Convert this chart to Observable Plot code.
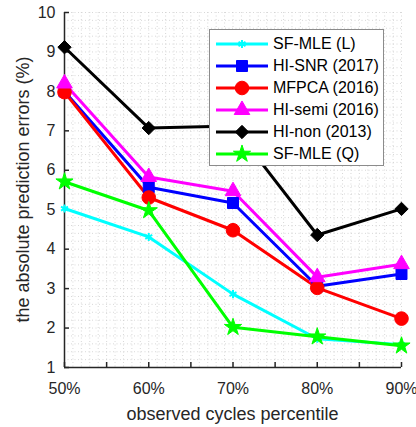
<!DOCTYPE html>
<html>
<head>
<meta charset="utf-8">
<script src="https://cdn.jsdelivr.net/npm/d3@7"></script>
<script src="https://cdn.jsdelivr.net/npm/@observablehq/plot@0.6"></script>
<style>
  html, body { margin: 0; padding: 0; background: #fff; }
  #wrap { position: relative; width: 416px; height: 427px; font-family: "Liberation Sans", Arial, sans-serif; }
  #legend { position: absolute; left: 209px; top: 29px; width: 175px; height: 137px; box-sizing: border-box;
            border: 1px solid #8c8c8c; background: #fff; padding-top: 3px; }
  .row { display: flex; align-items: center; height: 22px; }
  .row svg { margin-left: 5px; }
  .row span { font-size: 16px; color: #000; margin-left: 4px; white-space: nowrap; }
</style>
</head>
<body>
<div id="wrap"></div>
<script>
// observed cycles percentile
const percentiles = [50, 60, 70, 80, 90];

// absolute prediction errors (%) per method
const sfMleL  = [5.03, 4.31, 2.86, 1.73, 1.58];
const hiSnr   = [8.00, 5.57, 5.17, 3.06, 3.37];
const mfpca   = [7.98, 5.31, 4.48, 3.02, 2.24];
const hiSemi  = [8.20, 5.83, 5.47, 3.29, 3.62];
const hiNon   = [9.12, 7.07, 7.12, 4.36, 5.02];
const sfMleQ  = [5.71, 4.98, 2.02, 1.78, 1.55];

const methods = [
  {name: "SF-MLE (L)",     values: sfMleL, color: "#00ffff", symbol: "asterisk", r: 3.8, filled: false},
  {name: "HI-SNR (2017)",  values: hiSnr,  color: "#0000ff", symbol: "square",   r: 6.2, filled: true},
  {name: "MFPCA (2016)",   values: mfpca,  color: "#ff0000", symbol: "circle",   r: 6.8, filled: true},
  {name: "HI-semi (2016)", values: hiSemi, color: "#ff00ff", symbol: "triangle", r: 5.8, filled: true},
  {name: "HI-non (2013)",  values: hiNon,  color: "#000000", symbol: "diamond2", r: 6.0, filled: true},
  {name: "SF-MLE (Q)",     values: sfMleQ, color: "#00ff00", symbol: "star",     r: 5.4, filled: true}
];

const rows = methods.flatMap(m => percentiles.map((p, i) => ({method: m.name, p, v: m.values[i]})));

const xMinor = d3.range(50, 90.001, 1);
const yMinor = d3.range(1, 10.001, 0.2);
const xTicks = d3.range(50, 90.001, 5);
const xLabels = [50, 60, 70, 80, 90];
const yTicks = d3.range(1, 11, 1);

const marks = [
  // fine dotted grid
  Plot.ruleX(xMinor, {stroke: "#c8c8c8", strokeWidth: 1, strokeDasharray: "1,2.5", strokeOpacity: 0.7}),
  Plot.ruleY(yMinor, {stroke: "#c8c8c8", strokeWidth: 1, strokeDasharray: "1,2.5", strokeOpacity: 0.7}),
  // axis lines
  Plot.ruleX([50], {stroke: "#262626", strokeWidth: 1.5}),
  Plot.ruleY([1], {stroke: "#262626", strokeWidth: 1.5}),
  Plot.axisY(yTicks, {anchor: "left", tickSize: -5, tickPadding: 14, stroke: "#262626", strokeWidth: 1.5,
    fontSize: 16, fill: "#262626", label: null}),
  Plot.axisX(xTicks, {anchor: "bottom", tickSize: -5, tickFormat: () => "", stroke: "#262626", strokeWidth: 1.5, label: null}),
  Plot.axisX(xLabels, {anchor: "bottom", tickSize: 0, tickPadding: 15, tickFormat: d => d + "%",
    fontSize: 16, fill: "#262626", label: null})
];

for (const m of methods) {
  const data = rows.filter(d => d.method === m.name);
  marks.push(Plot.line(data, {x: "p", y: "v", stroke: m.color, strokeWidth: 3}));
}
for (const m of methods) {
  const data = rows.filter(d => d.method === m.name);
  marks.push(Plot.dot(data, {x: "p", y: "v", symbol: () => m.symbol, r: m.r,
    fill: m.filled ? m.color : "none", stroke: m.color, strokeWidth: m.filled ? 1 : 2}));
}

const chart = Plot.plot({
  width: 416,
  height: 427,
  marginLeft: 64,
  marginRight: 15,
  marginTop: 12,
  marginBottom: 60,
  x: {domain: [50, 90], axis: null},
  y: {domain: [1, 10], axis: null},
  style: {fontFamily: "Liberation Sans, Arial, sans-serif", background: "#fff"},
  marks
});

const wrap = document.getElementById("wrap");
wrap.appendChild(chart);

// axis titles
const svg = d3.select(chart);
svg.append("text")
  .attr("x", (64 + 401) / 2).attr("y", 420)
  .attr("text-anchor", "middle")
  .attr("font-size", 18).attr("fill", "#262626")
  .text("observed cycles percentile");
svg.append("text")
  .attr("transform", `translate(29,${(12 + 367) / 2}) rotate(-90)`)
  .attr("text-anchor", "middle")
  .attr("font-size", 18).attr("fill", "#262626")
  .text("the absolute prediction errors (%)");

// legend
const legend = document.createElement("div");
legend.id = "legend";
for (const m of methods) {
  const row = document.createElement("div");
  row.className = "row";
  const s = d3.create("svg").attr("width", 54).attr("height", 22);
  s.append("line").attr("x1", 1).attr("x2", 53).attr("y1", 11).attr("y2", 11)
    .attr("stroke", m.color).attr("stroke-width", 3);
  const sym = {asterisk: d3.symbolAsterisk, square: d3.symbolSquare, circle: d3.symbolCircle,
               triangle: d3.symbolTriangle, diamond2: d3.symbolDiamond2, star: d3.symbolStar}[m.symbol];
  s.append("path").attr("transform", "translate(27,11)")
    .attr("d", d3.symbol(sym, Math.PI * m.r * m.r)())
    .attr("fill", m.filled ? m.color : "none").attr("stroke", m.color).attr("stroke-width", m.filled ? 1 : 2);
  row.appendChild(s.node());
  const t = document.createElement("span");
  t.textContent = m.name;
  row.appendChild(t);
  legend.appendChild(row);
}
wrap.appendChild(legend);
</script>
</body>
</html>
